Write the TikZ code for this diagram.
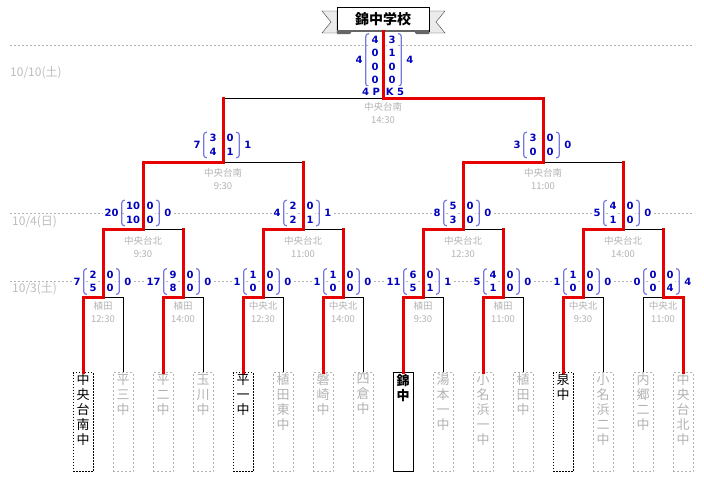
\documentclass[tikz,border=0pt]{standalone}
\usepackage{fontspec}
\newfontfamily\jp{Noto Sans CJK JP}
\newfontfamily\numf{DejaVu Sans}
\usetikzlibrary{positioning,calc}
\definecolor{winred}{RGB}{230,0,0}
\definecolor{txtgray}{RGB}{178,178,178}
\definecolor{numblue}{RGB}{0,0,190}
\definecolor{parblue}{RGB}{120,120,225}
\newcommand\score[5]{%
  \node[num] (lc) at ($#1+(-10,0)$) {#3};
  \node[num] (rc) at ($#1+(7,0)$) {#4};
  \draw[paren] ([xshift=-1pt]lc.north west) -- ([xshift=-4pt]lc.north west) -- ([xshift=-4pt]lc.south west) -- ([xshift=-1pt]lc.south west);
  \draw[paren] ([xshift=1pt]rc.north east) -- ([xshift=4pt]rc.north east) -- ([xshift=4pt]rc.south east) -- ([xshift=1pt]rc.south east);
  \node[num,tot,left=5pt of lc] (lt) {#2};
  \node[num,tot,right=7pt of rc] (rt) {#5};
}

\begin{document}
\begin{tikzpicture}[x=1pt,y=-1pt]
\tikzset{
  win/.style={winred,line width=3pt,line cap=rect},
  lose/.style={black,line width=1pt},
  dateline/.style={txtgray,line width=0.8pt,dash pattern=on 2pt off 2pt},
  num/.style={font=\numf\bfseries\fontsize{10}{13.5}\selectfont,text=numblue,fill=white,inner xsep=0pt,inner ysep=2pt,minimum width=10pt,align=center},
  tot/.style={inner xsep=2pt,minimum width=0pt},
  paren/.style={parblue,line width=1.2pt,rounded corners=2.5pt},
  venue/.style={font=\jp\fontsize{9.5}{13}\selectfont,text=txtgray,align=center,anchor=north,inner sep=0pt},
  date/.style={font=\jp\fontsize{12}{14}\selectfont,text=txtgray!85,anchor=west,inner sep=0pt},
  team/.style={anchor=north,inner xsep=0pt,inner ysep=1.5pt,line width=1pt,font=\jp\fontsize{13}{15}\selectfont},
  lostbox/.style={team,draw=txtgray,text=txtgray,dash pattern=on 2pt off 2pt},
  keptbox/.style={team,draw=black,dash pattern=on 1.5pt off 1.5pt},
  champbox/.style={team,draw=black,font=\jp\bfseries\fontsize{13}{15}\selectfont}
}
\useasboundingbox (0,0) rectangle (704,490);
\foreach \y in {45,213,281} \draw[dateline] (10,\y) -- (694,\y);
\node[date] (d1) at (10,73) {10/10(土)};
\node[date] (d2) at (12,222) {10/4(日)};
\node[date] (d3) at (12,289) {10/3(土)};

\foreach \st/\nm [count=\i] in {keptbox/中\\央\\台\\南\\中, lostbox/平\\三\\中, lostbox/平\\二\\中, lostbox/玉\\川\\中,
  keptbox/平\\一\\中, lostbox/植\\田\\東\\中, lostbox/磐\\崎\\中, lostbox/四\\倉\\中,
  champbox/錦\\中, lostbox/湯\\本\\一\\中, lostbox/小\\名\\浜\\一\\中, lostbox/植\\田\\中,
  keptbox/泉\\中, lostbox/小\\名\\浜\\二\\中, lostbox/内\\郷\\二\\中, lostbox/中\\央\\台\\北\\中}
  \node[\st] (t\i) at (43+40*\i,372) {\parbox[t][96pt][t]{20pt}{\centering\nm}};

\foreach \k in {1,...,8} \coordinate (m\k) at (23+80*\k,297);
\foreach \k in {1,...,4} \coordinate (q\k) at (-17+160*\k,229);
\coordinate (s1) at (223,162);
\coordinate (s2) at (543,162);
\coordinate (f) at (383,98);

\filldraw[draw=black!75,fill=black!8] (337,11) -- (322,11) -- (331,22) -- (322,33) -- (337,33) -- cycle;
\filldraw[draw=black!75,fill=black!8] (429,11) -- (445,11) -- (436,22) -- (445,33) -- (429,33) -- cycle;
\fill[black!60] (337,31) -- (352,31) -- (350,34) -- (337,34) -- cycle;
\fill[black!60] (414,31) -- (429,31) -- (429,34) -- (416,34) -- cycle;
\node[draw,fill=white,minimum width=92pt,minimum height=24pt,inner sep=0pt,font=\jp\bfseries\fontsize{14}{16}\selectfont] (b) at (383,19) {錦中学校};
\draw[black!60,line width=1.5pt] (b.south west) -- (b.south east);

\foreach \x/\v/\h [count=\i] in {103/植田/12:30, 183/植田/14:00, 263/中央北/12:30, 343/中央北/14:00,
  423/植田/9:30, 503/植田/11:00, 583/中央北/9:30, 663/中央北/11:00}
  \node[venue] (v\i) at (\x,301) {\v\\\h};
\foreach \x/\h [count=\i] in {143/9:30, 303/11:00, 463/12:30, 623/14:00}
  \node[venue] (w\i) at (\x,236) {中央台北\\\h};
\node[venue] (u1) at (223,168) {中央台南\\9:30};
\node[venue] (u2) at (543,168) {中央台南\\11:00};
\node[venue] (u3) at (383,102) {中央台南\\14:30};

\score{(103,281.5)}{7}{2\\5}{0\\0}{0}
\score{(183,281.5)}{17}{9\\8}{0\\0}{0}
\score{(263,281.5)}{1}{1\\0}{0\\0}{0}
\score{(343,281.5)}{1}{1\\0}{0\\0}{0}
\score{(423,281.5)}{11}{6\\5}{0\\1}{1}
\score{(503,281.5)}{5}{4\\1}{0\\0}{0}
\score{(583,281.5)}{1}{1\\0}{0\\0}{0}
\score{(663,281.5)}{0}{0\\0}{0\\4}{4}
\score{(143,213)}{20}{10\\10}{0\\0}{0}
\score{(303,213)}{4}{2\\2}{0\\1}{1}
\score{(463,213)}{8}{5\\3}{0\\0}{0}
\score{(623,213)}{5}{4\\1}{0\\0}{0}
\score{(223,145)}{7}{3\\4}{0\\1}{1}
\score{(543,145)}{3}{3\\0}{0\\0}{0}
\score{(385,60)}{4}{4\\0\\0\\0}{3\\1\\0\\0}{4}
\node[num,tot] (pkl) at (371,92) {4 P};
\node[num,tot] (pkr) at (395,92) {K 5};

\foreach \a/\b in {t2/m1,t4/m2,t6/m3,t8/m4,t10/m5,t12/m6,t14/m7,t15/m8}
  \draw[lose] (\a.north) |- (\b);
\foreach \a/\b in {m2/q1,m4/q2,m6/q3,m8/q4,q2/s1,q4/s2,s1/f}
  \draw[lose] (\a|-\b) -- (\b);
\draw[win] (t1.north) |- (m1) |- (q1) |- (s1) -- (s1|-f);
\draw[win] (t3.north) |- (m2) -- (m2|-q1);
\draw[win] (t5.north) |- (m3) |- (q2) -- (q2|-s1);
\draw[win] (t7.north) |- (m4) -- (m4|-q2);
\draw[win] (t9.north) |- (m5) |- (q3) |- (s2) |- (f) -- (b.south);
\draw[win] (t11.north) |- (m6) -- (m6|-q3);
\draw[win] (t13.north) |- (m7) |- (q4) -- (q4|-s2);
\draw[win] (t16.north) |- (m8) -- (m8|-q4);
\end{tikzpicture}
\end{document}
